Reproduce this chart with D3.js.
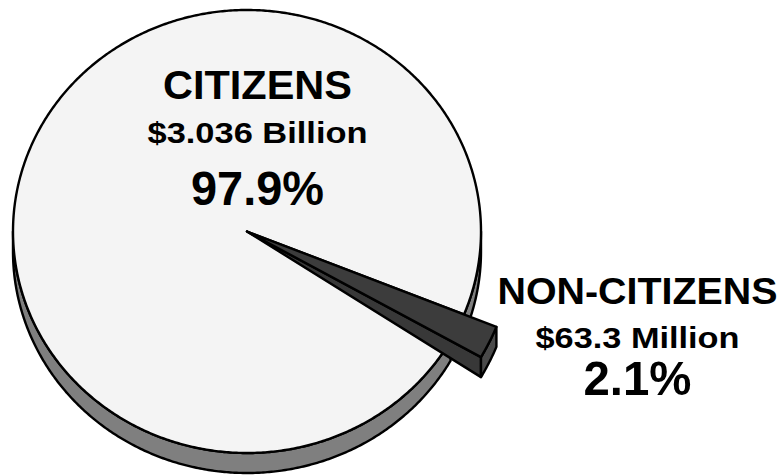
<!DOCTYPE html>
<html>
<head>
<meta charset="utf-8">
<script src="https://cdn.jsdelivr.net/npm/d3@7"></script>
<style>
  html, body { margin: 0; padding: 0; background: #ffffff; }
  svg { display: block; }
  text { font-family: "Liberation Sans", Arial, Helvetica, sans-serif; font-weight: bold; fill: #000; }
</style>
</head>
<body>
<script>
// Share of payments by citizenship status
const categories = ["NON-CITIZENS", "CITIZENS"];
const amounts = ["$63.3 Million", "$3.036 Billion"];
const percents = [2.1, 97.9];

const W = 782, H = 476;
const svg = d3.select("body").append("svg").attr("width", W).attr("height", H);

// Tilted-disc projection: centre, radii, thickness
const cx = 247, cy = 231.5, rx = 234, tilt = 221.5 / 234, depth = 20;
const sliceR = 269;              // the small wedge sticks out past the rim
const deg = Math.PI / 180;

const pie = d3.pie().sort(null).value(d => d).startAngle(112 * deg).endAngle(472 * deg);
const arcs = pie(percents);
const small = arcs[0], big = arcs[1];

// point on the projected disc for d3 angle a (clockwise from 12 o'clock)
const pt = (a, r, dy = 0) => [cx + r * Math.sin(a), cy - r * tilt * Math.cos(a) + dy];
const rim = (a0, a1, r, dy = 0) => {
  const n = Math.max(2, Math.ceil(Math.abs(a1 - a0) / (0.5 * deg)));
  return d3.range(n + 1).map(i => pt(a0 + (a1 - a0) * i / n, r, dy));
};
const line = d3.line();
const poly = pts => line(pts) + "Z";

const stroke = "#000", sw = 2.4;

// visible rim of the large slice (front half only, split by the notch)
const front = [[90 * deg, small.startAngle], [small.endAngle, 270 * deg]];
front.forEach(([a0, a1]) => {
  svg.append("path")
    .attr("d", poly(rim(a0, a1, rx).concat(rim(a1, a0, rx, depth))))
    .attr("fill", "#7f7f7f").attr("stroke", stroke).attr("stroke-width", sw)
    .attr("stroke-linejoin", "round");
});

// top face of the large slice
svg.append("path")
  .attr("d", poly([pt(0, 0)].concat(rim(big.startAngle, big.endAngle, rx))))
  .attr("fill", "#f4f4f4").attr("stroke", stroke).attr("stroke-width", sw)
  .attr("stroke-linejoin", "round");

// small wedge: radial side, outer face, top
const apex = pt(0, 0);
const outEnd = pt(small.endAngle, sliceR);
svg.append("path")
  .attr("d", poly([apex, outEnd, pt(small.endAngle, sliceR, depth)]))
  .attr("fill", "#383838").attr("stroke", stroke).attr("stroke-width", sw)
  .attr("stroke-linejoin", "round");

svg.append("path")
  .attr("d", poly(rim(small.startAngle, small.endAngle, sliceR)
    .concat(rim(small.endAngle, small.startAngle, sliceR, depth))))
  .attr("fill", "#4a4a4a").attr("stroke", stroke).attr("stroke-width", sw)
  .attr("stroke-linejoin", "round");

svg.append("path")
  .attr("d", poly([apex].concat(rim(small.startAngle, small.endAngle, sliceR))))
  .attr("fill", "#3c3c3c").attr("stroke", stroke).attr("stroke-width", sw)
  .attr("stroke-linejoin", "round");

// labels
const labels = [
  { i: 1, x: 257.5, rows: [
    { t: categories[1], y: 99, size: 40, w: 189 },
    { t: amounts[1], y: 143, size: 30, w: 220 },
    { t: percents[1].toFixed(1) + "%", y: 205, size: 49, w: 133 } ] },
  { i: 0, x: 637.5, rows: [
    { t: categories[0], y: 304, size: 37, w: 280 },
    { t: amounts[0], y: 348, size: 30, w: 204 },
    { t: percents[0].toFixed(1) + "%", y: 395, size: 49, w: 108 } ] }
];
labels.forEach(g => {
  g.rows.forEach(r => {
    svg.append("text")
      .attr("x", g.x - r.w / 2).attr("y", r.y)
      .attr("font-size", r.size)
      .attr("textLength", r.w).attr("lengthAdjust", "spacingAndGlyphs")
      .text(r.t);
  });
});
</script>
</body>
</html>
